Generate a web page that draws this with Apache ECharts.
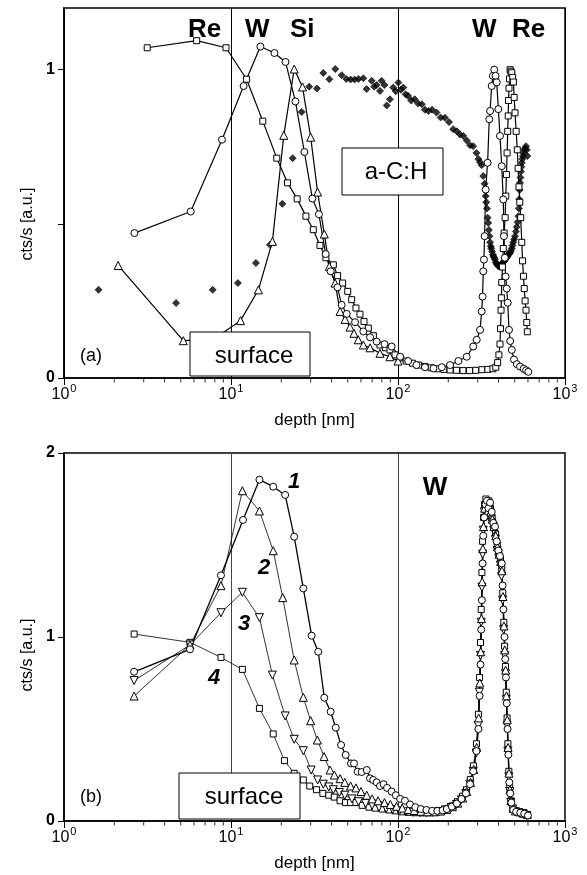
<!DOCTYPE html>
<html><head><meta charset="utf-8">
<script src="https://cdn.jsdelivr.net/npm/echarts@6/dist/echarts.min.js"></script>
<style>html,body{margin:0;padding:0;background:#fff}#c{width:587px;height:875px}</style>
</head><body><div id="c"></div>
<script>
// ---------- panel (a) ----------
const reA = [[3.15,1.071],[6.23,1.094],[9.33,1.071],[12.4,0.969],[15.5,0.833],[18.8,0.713],[21.8,0.633],[24.9,0.581],[28.1,0.525],[31.1,0.481],[34.1,0.430],[37.0,0.39],[41,0.367],[43.5,0.332],[46.6,0.308],[50,0.281],[52.8,0.254],[56,0.227],[59.2,0.207],[62.6,0.183],[66.4,0.162],[71.2,0.137],[78,0.107],[84,0.098],[89.5,0.091],[96,0.075],[103,0.065],[112,0.055],[122,0.048],[133,0.042],[145,0.037],[158,0.033],[172,0.03],[188,0.028],[205,0.026],[224,0.025],[245,0.024],[268,0.024],[292,0.025],[318,0.027],[345,0.028],[370,0.03],[385,0.035],[395,0.05],[402,0.075],[408,0.11],[411,0.16],[414,0.22],[416,0.26],[418,0.31],[422,0.36],[427,0.42],[432,0.47],[438,0.52],[442,0.59],[446,0.66],[450,0.73],[454,0.8],[457,0.85],[459,0.9],[462,0.94],[465,0.97],[469,1.0],[474,0.995],[480,0.99],[486,0.975],[491,0.96],[496,0.91],[502,0.86],[510,0.8],[518,0.74],[524,0.68],[530,0.62],[536,0.57],[543,0.52],[551,0.44],[557,0.38],[564,0.33],[570,0.29],[577,0.25],[584,0.22],[590,0.18],[595,0.15]];
const wA = [[2.64,0.470],[5.74,0.540],[8.83,0.773],[11.9,0.947],[15.0,1.075],[18.2,1.054],[21.2,1.025],[24.3,0.897],[27.5,0.733],[30.7,0.582],[33.6,0.531],[36.9,0.402],[39.5,0.346],[43.4,0.294],[46.0,0.237],[49.3,0.208],[55.3,0.181],[62,0.151],[68,0.132],[74.5,0.118],[83,0.11],[91.6,0.102],[103,0.069],[115,0.055],[129,0.042],[145,0.035],[163,0.031],[183,0.035],[205,0.042],[230,0.055],[258,0.069],[282,0.102],[296,0.124],[310,0.156],[317,0.216],[321,0.264],[324,0.346],[327,0.384],[330,0.46],[335,0.611],[344,0.698],[352,0.839],[356,0.866],[364,0.947],[370,0.98],[377,1.0],[384,0.98],[390,0.959],[399,0.872],[408,0.785],[418,0.687],[427,0.579],[431,0.46],[436,0.39],[441,0.329],[448,0.29],[454,0.244],[462,0.156],[470,0.12],[480,0.091],[495,0.06],[515,0.045],[538,0.037],[565,0.03],[585,0.025],[603,0.02]];
const siA = [[2.11,0.365],[5.18,0.121],[7.8,0.125],[11.4,0.186],[14.6,0.286],[17.7,0.443],[20.7,0.787],[23.9,1.002],[26.8,0.944],[30.0,0.781],[33.0,0.603],[36.2,0.467],[38.8,0.362],[42,0.308],[45,0.216],[48.2,0.19],[51.6,0.165],[54.5,0.145],[57.8,0.124],[62,0.107],[68,0.098],[78,0.08],[89.5,0.069],[100,0.055]];
const cA = [[1.61,0.286],[4.69,0.243],[7.77,0.286],[11.0,0.308],[14.1,0.373],[17.1,0.432],[20.3,0.565],[23.4,0.713],[26.5,0.863],[29.4,0.945],[32.7,0.939],[35.7,0.989],[38.8,0.969],[42.1,1.002],[46,0.982],[49,0.97],[52,0.968],[55,0.968],[58,0.97],[62,0.972],[64.9,0.937],[69.6,0.964],[72,0.945],[74.5,0.95],[78,0.931],[79.8,0.964],[83,0.95],[85.6,0.884],[89.5,0.904],[93.7,0.942],[97,0.93],[100.5,0.958],[104,0.935],[107.6,0.942],[111,0.92],[115,0.915],[120,0.9],[126,0.904],[132,0.89],[139,0.888],[145,0.87],[152,0.866],[160,0.87],[170,0.861],[180,0.845],[191,0.844],[202,0.83],[214,0.807],[225,0.8],[235,0.79],[246,0.785],[258,0.77],[270,0.755],[282,0.752],[295,0.73],[303,0.71],[310,0.70],[317,0.69],[324,0.655],[330,0.63],[335,0.59],[338,0.57],[341,0.55],[344,0.52],[347,0.503],[350,0.48],[353,0.46],[356,0.44],[359,0.427],[362,0.42],[366,0.41],[370,0.40],[373,0.395],[377,0.39],[381,0.384],[385,0.375],[390,0.37],[395,0.366],[400,0.362],[405,0.362],[410,0.365],[415,0.368],[420,0.37],[425,0.375],[430,0.378],[434,0.38],[438,0.384],[443,0.388],[448,0.39],[453,0.395],[458,0.4],[463,0.403],[469,0.406],[474,0.412],[480,0.42],[485,0.43],[490,0.44],[496,0.45],[502,0.46],[508,0.475],[514,0.49],[520,0.505],[526,0.525],[529,0.55],[532,0.58],[535,0.61],[538,0.633],[541,0.65],[545,0.67],[548,0.685],[551,0.698],[555,0.71],[560,0.72],[565,0.73],[570,0.74],[577,0.745],[584,0.752],[590,0.74],[595,0.72]];

// ---------- panel (b) ----------
const b1 = [[2.63,0.811],[5.68,0.933],[8.71,1.335],[11.8,1.636],[14.8,1.855],[17.9,1.817],[21.1,1.772],[23.9,1.545],[27.1,1.264],[30.4,1.007],[33.3,0.92],[36.2,0.670],[39.5,0.594],[42.4,0.507],[45.6,0.413],[48.6,0.359],[52.3,0.313],[54.5,0.313],[57.3,0.268],[60.6,0.266],[65,0.277],[68,0.232],[71,0.223],[74.5,0.21],[78,0.19],[82,0.2],[86,0.18],[91.6,0.16],[97,0.14],[103,0.12],[110,0.11],[118,0.09],[127,0.075],[137,0.065],[148,0.06],[160,0.055],[172,0.055],[185,0.058],[196,0.065],[210,0.078],[225,0.095],[240,0.12],[255,0.15],[270,0.2],[282,0.27],[295,0.38],[303,0.5],[308,0.68],[312,0.85],[315,1.04],[318,1.2],[321,1.4],[324,1.55],[328,1.65],[334,1.72],[341,1.74],[348,1.7],[356,1.73],[364,1.68],[372,1.62],[381,1.6],[390,1.52],[399,1.47],[408,1.44],[418,1.4],[423,1.28],[428,1.15],[434,1.0],[439,0.88],[443,0.78],[448,0.64],[453,0.5],[458,0.36],[464,0.21],[470,0.15],[477,0.1],[490,0.06],[510,0.05],[540,0.045],[570,0.04],[600,0.03]];
const b2 = [[2.63,0.679],[5.68,0.957],[8.71,1.279],[11.7,1.795],[14.8,1.685],[17.9,1.469],[20.4,1.214],[23.9,0.875],[27.1,0.672],[30,0.545],[32.9,0.44],[36.1,0.35],[39.2,0.277],[41.6,0.25],[45,0.23],[48,0.21],[52,0.19],[56,0.18],[60,0.16],[65,0.14],[70,0.12],[76,0.11],[83,0.1],[90,0.09],[98,0.08],[106,0.07],[115,0.062],[125,0.057],[137,0.053],[150,0.05],[165,0.05],[180,0.054],[196,0.063],[212,0.078],[228,0.097],[244,0.125],[258,0.16],[272,0.21],[284,0.28],[296,0.4],[304,0.56],[309,0.75],[313,0.92],[316,1.1],[319,1.3],[322,1.48],[325,1.6],[330,1.7],[337,1.73],[344,1.68],[351,1.71],[359,1.68],[367,1.64],[376,1.6],[385,1.55],[394,1.49],[403,1.45],[412,1.41],[419,1.36],[425,1.22],[431,1.06],[436,0.93],[441,0.82],[446,0.68],[451,0.55],[456,0.4],[462,0.26],[468,0.17],[475,0.11],[488,0.07],[505,0.055],[535,0.05],[565,0.042],[595,0.035]];
const b3 = [[2.63,0.763],[5.68,0.957],[8.71,1.132],[11.7,1.243],[14.8,1.105],[17.7,0.793],[21.1,0.571],[23.9,0.444],[27.1,0.382],[30.2,0.277],[33,0.223],[35.7,0.2],[38.5,0.185],[41,0.17],[44.5,0.155],[48,0.14],[53,0.12],[58,0.105],[64,0.095],[70,0.085],[77,0.075],[85,0.068],[93,0.062],[102,0.055],[112,0.05],[123,0.048],[135,0.046],[148,0.045],[162,0.047],[177,0.052],[192,0.06],[208,0.073],[224,0.09],[240,0.115],[255,0.15],[269,0.2],[282,0.27],[294,0.37],[302,0.52],[307,0.7],[312,0.9],[315,1.08],[318,1.27],[321,1.45],[324,1.58],[329,1.68],[335,1.71],[342,1.66],[349,1.69],[357,1.66],[365,1.62],[374,1.58],[383,1.53],[392,1.47],[401,1.43],[410,1.39],[417,1.33],[423,1.2],[429,1.04],[435,0.9],[440,0.8],[445,0.66],[450,0.52],[455,0.38],[461,0.24],[467,0.16],[474,0.1],[486,0.065],[503,0.05],[530,0.045],[560,0.04],[590,0.03]];
const b4 = [[2.63,1.016],[5.68,0.971],[8.71,0.889],[11.7,0.824],[14.8,0.612],[17.9,0.473],[20.9,0.328],[23.9,0.259],[27.1,0.223],[29.6,0.19],[32.5,0.17],[35.5,0.15],[38.5,0.14],[41.5,0.13],[45,0.11],[48.5,0.1],[52,0.1],[56,0.1],[61,0.085],[67,0.075],[73,0.07],[80,0.065],[88,0.06],[96,0.055],[105,0.05],[115,0.047],[126,0.045],[138,0.044],[151,0.045],[165,0.049],[180,0.056],[195,0.066],[211,0.082],[227,0.105],[243,0.135],[257,0.17],[271,0.225],[283,0.3],[295,0.42],[303,0.58],[308,0.78],[312,0.97],[315,1.15],[318,1.35],[321,1.52],[325,1.65],[330,1.72],[336,1.75],[343,1.7],[350,1.74],[358,1.7],[366,1.65],[375,1.61],[384,1.56],[393,1.5],[402,1.46],[411,1.42],[418,1.37],[424,1.24],[430,1.08],[435,0.95],[440,0.84],[445,0.7],[450,0.56],[455,0.42],[461,0.27],[467,0.18],[474,0.11],[487,0.07],[505,0.055],[532,0.048],[562,0.042],[592,0.035]];

// ---------- axes ----------
const minorTickDepths = [2,3,4,5,6,7,8,9,20,30,40,50,60,70,80,90,200,300,400,500,600,700,800,900];
const yTicksA = [0, 0.5, 1];
const yLabelsA = [0, 1];
const yTicksB = [0, 1, 2];

const FONT = '"Liberation Sans", Arial, Helvetica, sans-serif';
const chart = echarts.init(document.getElementById('c'), null, {renderer: 'canvas'});

function xAxisDef(gi) {
  return {
    type: 'log', logBase: 10, gridIndex: gi, min: 1, max: 1000, interval: 1,
    name: 'depth [nm]', nameLocation: 'middle', nameGap: 34,
    nameTextStyle: {fontFamily: FONT, fontSize: 17, color: '#000'},
    axisLine: {show: true, lineStyle: {color: '#000', width: 1.5}},
    axisTick: {show: true, length: 7, lineStyle: {color: '#000', width: 1}},
    splitLine: {show: true, lineStyle: {color: gi === 0 ? '#000' : '#444', width: 1}},
    axisLabel: {
      margin: 9, color: '#000', fontFamily: FONT,
      formatter: v => '{b|10}{s|' + Math.round(Math.log10(v)) + '}',
      rich: {
        b: {fontSize: 16, lineHeight: 16, fontFamily: FONT, color: '#000', verticalAlign: 'bottom'},
        s: {fontSize: 11, lineHeight: 11, fontFamily: FONT, color: '#000', verticalAlign: 'bottom', padding: [0, 0, 9, 1]}
      }
    }
  };
}
function yAxisDef(gi, max, ticks, labels, pad) {
  return {
    type: 'value', gridIndex: gi, min: 0, max: max,
    name: 'cts/s [a.u.]', nameLocation: 'middle', nameGap: 25, nameRotate: 90,
    nameTextStyle: {fontFamily: FONT, fontSize: 16, color: '#000', padding: [0, pad, 0, 0]},
    axisLine: {show: true, lineStyle: {color: '#000', width: 1.5}},
    axisTick: {show: true, length: 6, customValues: ticks, lineStyle: {color: '#000', width: 1}},
    splitLine: {show: false},
    axisLabel: {margin: 9, color: '#000', fontFamily: FONT, fontSize: 16, fontWeight: 'bold', customValues: labels}
  };
}
function openSeries(data, gi, symbol, size, lw, rot) {
  return {
    type: 'line', xAxisIndex: gi, yAxisIndex: gi, data: data,
    symbol: symbol, symbolSize: size, symbolRotate: rot || 0, showSymbol: true,
    lineStyle: {color: '#000', width: lw},
    itemStyle: {color: '#fff', borderColor: '#000', borderWidth: 1},
    silent: true, animation: false, clip: true
  };
}
function minorTicks(gi) {
  return {
    type: 'scatter', xAxisIndex: gi, yAxisIndex: gi,
    data: minorTickDepths.map(v => [v, 0]),
    symbol: 'rect', symbolSize: [1, 4], symbolOffset: [0, 2.5],
    itemStyle: {color: '#000'}, silent: true, animation: false, clip: false, z: 10
  };
}

function txt(text, x, y, size, weight, style, align) {
  return {type: 'text', z: 100, x: x, y: y, silent: true,
    style: {text: text, fill: '#000', font: (style || 'normal') + ' ' + (weight || 'normal') + ' ' + size + 'px ' + FONT,
      textAlign: align || 'left', textVerticalAlign: 'middle'}};
}
function box(x, y, w, h) {
  return {type: 'rect', z: 99, silent: true, shape: {x: x, y: y, width: w, height: h},
    style: {fill: '#fff', stroke: '#000', lineWidth: 1}};
}

const option = {
  backgroundColor: '#fff',
  animation: false,
  grid: [
    {left: 64, top: 8, width: 501, height: 370, show: true, borderColor: '#000', borderWidth: 1.5, backgroundColor: 'transparent'},
    {left: 64, top: 453, width: 501, height: 368, show: true, borderColor: '#000', borderWidth: 1.5, backgroundColor: 'transparent'}
  ],
  xAxis: [xAxisDef(0), xAxisDef(1)],
  yAxis: [yAxisDef(0, 1.2, yTicksA, yLabelsA, 62), yAxisDef(1, 2, yTicksB, yTicksB, 36)],
  series: [
    openSeries(reA, 0, 'rect', 6, 1.2),
    openSeries(siA, 0, 'triangle', 8, 1.2),
    openSeries(wA, 0, 'circle', 7, 1.2),
    {type: 'scatter', xAxisIndex: 0, yAxisIndex: 0, data: cA, symbol: 'diamond', symbolSize: 7,
      itemStyle: {color: '#000', borderColor: '#000', borderWidth: 0.8}, silent: true, animation: false},
    openSeries(b4, 1, 'rect', 6, 0.8),
    openSeries(b3, 1, 'triangle', 8, 0.8, 180),
    openSeries(b2, 1, 'triangle', 8, 0.8),
    openSeries(b1, 1, 'circle', 7, 1.3),
    minorTicks(0), minorTicks(1)
  ],
  graphic: [
    txt('Re', 188, 30, 26, 'bold'),
    txt('W', 245, 30, 26, 'bold'),
    txt('Si', 290, 30, 26, 'bold'),
    txt('W', 472, 30, 26, 'bold'),
    txt('Re', 512, 30, 26, 'bold'),
    box(342, 148, 101, 47),
    txt('a-C:H', 396, 172, 24, 'normal', 'normal', 'center'),
    box(190, 332, 120, 44),
    txt('surface', 254, 356, 24, 'normal', 'normal', 'center'),
    txt('(a)', 80, 356, 18),
    box(179, 773, 121, 46),
    txt('surface', 244, 797, 24, 'normal', 'normal', 'center'),
    txt('(b)', 80, 797, 18),
    txt('1', 294, 482, 22, 'bold', 'italic', 'center'),
    txt('2', 264, 568, 22, 'bold', 'italic', 'center'),
    txt('3', 244, 624, 22, 'bold', 'italic', 'center'),
    txt('4', 214, 678, 22, 'bold', 'italic', 'center'),
    txt('W', 435, 488, 26, 'bold', 'normal', 'center')
  ]
};
chart.setOption(option);
</script></body></html>
